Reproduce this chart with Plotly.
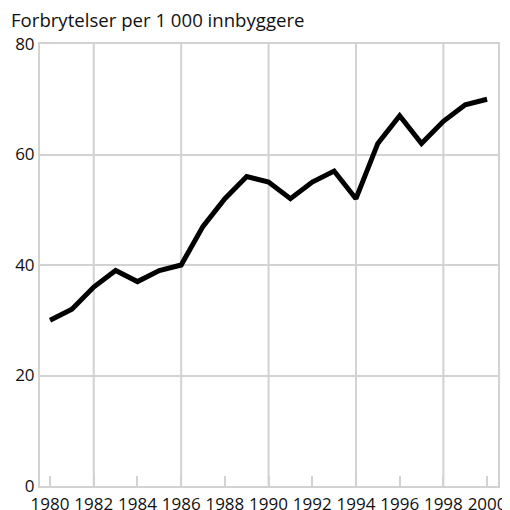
import plotly.graph_objects as go

years = list(range(1980, 2001))
crimes = [30, 32, 36, 39, 37, 39, 40, 47, 52, 56, 55, 52, 55, 57, 52, 62, 67, 62, 66, 69, 70]
x_tick_years = list(range(1980, 2001, 2))
x_tick_labels = [str(y) for y in x_tick_years]
grid_years = [1982, 1986, 1990, 1994, 1998]
y_ticks = [0, 20, 40, 60, 80]
title_text = "Forbrytelser per 1 000 innbyggere"

GRID = "#d2d2d2"
FONT = "Open Sans"
W, H = 510, 512

fig = go.Figure()
fig.add_trace(go.Scatter(x=years, y=crimes, mode="lines",
                         line=dict(color="black", width=5),
                         hoverinfo="skip", showlegend=False))

for gy in grid_years:
    fig.add_shape(type="line", xref="x", yref="paper", x0=gy, x1=gy, y0=0, y1=1,
                  line=dict(color=GRID, width=2), layer="below")

fig.update_layout(
    width=W, height=H,
    margin=dict(l=32, r=20, t=36, b=34, autoexpand=False),
    paper_bgcolor="white", plot_bgcolor="white",
    font=dict(family=FONT, size=17, color="#111"),
    title=dict(text=title_text, x=3 / W, xanchor="left", xref="container",
               y=1 - 12 / H, yanchor="middle", yref="container",
               font=dict(size=18.6, family=FONT, color="#111")),
    xaxis=dict(range=[1979.54, 2000.5], tickvals=x_tick_years, ticktext=x_tick_labels,
               showgrid=False, zeroline=False, ticks="inside", ticklen=10,
               tickcolor=GRID, tickwidth=2, showline=True, mirror=True,
               linecolor=GRID, linewidth=2, tickfont=dict(size=17), automargin=False,
               ticklabelstandoff=2),
    yaxis=dict(range=[0, 80], tickvals=y_ticks, showgrid=True, gridcolor=GRID,
               gridwidth=2, zeroline=False, ticks="", showline=True, mirror=True,
               linecolor=GRID, linewidth=2, tickfont=dict(size=17), automargin=False),
)

fig.write_html("out.html")
